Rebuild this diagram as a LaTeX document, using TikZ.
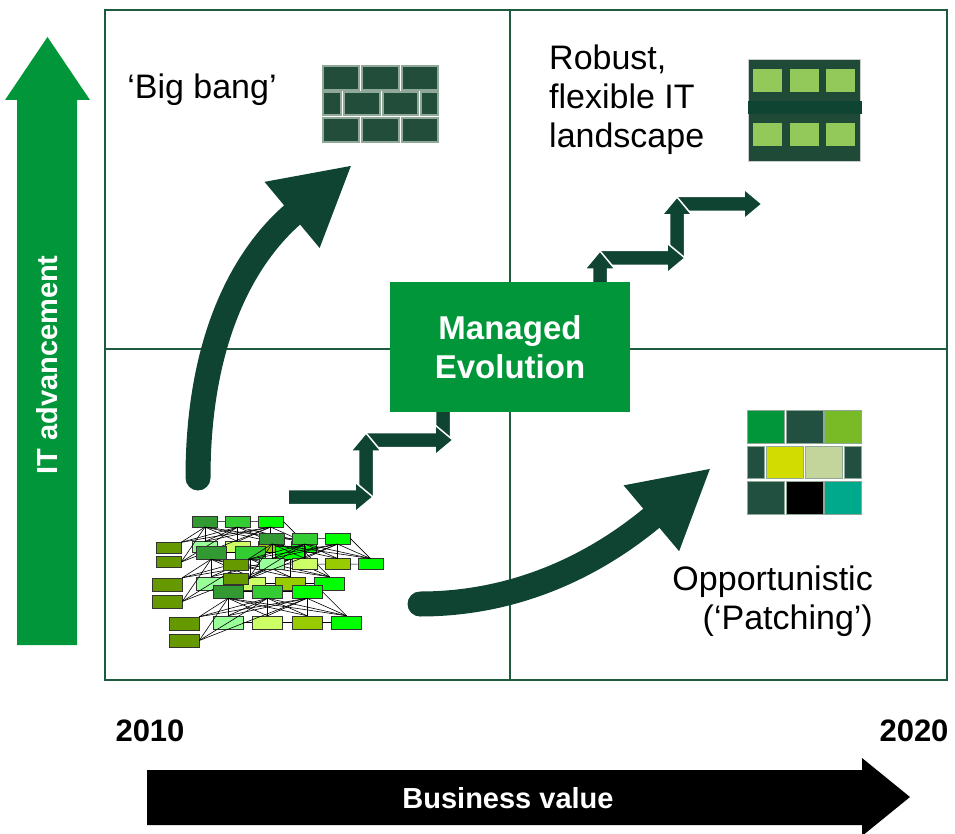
\documentclass[tikz,border=0pt]{standalone}
\usepackage{fontspec}
\setmainfont{Liberation Sans}
\usetikzlibrary{positioning,arrows.meta}

\definecolor{evogreen}{HTML}{009639}
\definecolor{evodark}{HTML}{0E4431}
\definecolor{gridgreen}{HTML}{1E5B3E}
\definecolor{brickdark}{HTML}{214D3A}
\definecolor{brickedge}{HTML}{8FA898}
\definecolor{landdark}{HTML}{1F4A38}
\definecolor{landlight}{HTML}{92C95A}
\definecolor{patchgreen}{HTML}{009639}
\definecolor{patchdark}{HTML}{215040}
\definecolor{patchlime}{HTML}{78BB26}
\definecolor{patchyellow}{HTML}{D2DC00}
\definecolor{patchpale}{HTML}{C3D59B}
\definecolor{patchteal}{HTML}{00A88C}
\definecolor{netA}{HTML}{339933}
\definecolor{netB}{HTML}{33CC33}
\definecolor{netC}{HTML}{00FF00}
\definecolor{netolive}{HTML}{669900}
\definecolor{netlight}{HTML}{99FF99}
\definecolor{netpale}{HTML}{CCFF66}
\definecolor{netlime}{HTML}{99CC00}

\tikzset{
  quadtext/.style={font=\fontsize{34}{39}\selectfont, inner sep=0pt},
  axistext/.style={text=white, font=\bfseries\fontsize{29}{34}\selectfont, inner sep=0pt},
  yeartext/.style={font=\bfseries\fontsize{31}{36}\selectfont, inner sep=0pt},
  evobox/.style={fill=evogreen, text=white, minimum width=240, minimum height=130,
    align=center, font=\bfseries\fontsize{33}{39}\selectfont},
  bigcurve/.style={draw=evodark, line width=25pt, line cap=round,
    -{Triangle[length=78pt,width=80pt]}},
  steparrow/.style={fill=evodark, draw=white, line width=1.5pt},
  brick/.style={fill=brickdark, draw=brickedge, line width=1.5pt},
  patch/.style={draw=brickedge, line width=1pt},
  netbox/.style={draw=black!80, line width=0.5pt, inner sep=0pt},
  netline/.style={draw=black, line width=0.6pt}
}

% one block arrow of the staircase: tail x, tail y, length, angle
\newcommand{\stepper}[4]{%
  \filldraw[steparrow, shift={(#1,#2)}, rotate=#4]
    (0,7.5) -- ({#3-18},7.5) -- ({#3-18},15) -- (#3,0)
    -- ({#3-18},-15) -- ({#3-18},-7.5) -- (0,-7.5) -- cycle;}

% one layer of the tangled legacy network: prefix, x, y, scale
\newcommand{\netlayer}[4]{%
  \begin{scope}[shift={(#2,#3)}, scale=#4, name prefix=#1-,
      every node/.append style={netbox, minimum width=30*#4, minimum height=13*#4}]
    \node[fill=netA] (t1) at (59,6.5) {};
    \node[fill=netB] (t2) at (98.5,6.5) {};
    \node[fill=netC] (t3) at (138,6.5) {};
    \node[fill=netolive] (l1) at (15,38.5) {};
    \node[fill=netolive] (l2) at (15,55.5) {};
    \node[fill=netlight] (m1) at (59,37.5) {};
    \node[fill=netpale] (m2) at (98.5,37.5) {};
    \node[fill=netlime] (m3) at (138,37.5) {};
    \node[fill=netC] (m4) at (177.5,37.5) {};
    \foreach \i in {1,2,3} {
      \foreach \j in {1,...,4} \draw[netline] (t\i.south) -- (m\j.north);
      \draw[netline] (t\i.south) -- (l1.north east);
      \draw[netline] (t\i.south) -- (l2.east);
    }
    \draw[netline] (t1) -- (t2) (t2) -- (t3) (m1) -- (m2) (m2) -- (m3) (m3) -- (m4);
    \draw[netline] (t3.east) -- (m4.north);
  \end{scope}}

\begin{document}
\begin{tikzpicture}[x=1pt, y=-1pt]
  \useasboundingbox (0,0) rectangle (955,834);

  % quadrant frame
  \draw[gridgreen, line width=1.5pt] (105,10) rectangle (947,680);
  \draw[gridgreen, line width=1.5pt] (510,10) -- (510,680) (105,349) -- (947,349);

  % axes
  \fill[evogreen] (17,645) -- (17,100) -- (5,100) -- (47.5,37) -- (90,100)
    -- (77,100) -- (77,645) -- cycle;
  \node[axistext, rotate=90] (itadv) at (47,365) {IT advancement};
  \fill[black] (147,770) -- (862,770) -- (862,758) -- (910,797) -- (862,836)
    -- (862,825) -- (147,825) -- cycle;
  \node[axistext] (busval) at (508,798) {Business value};
  \node[yeartext] (y2010) at (150,731) {2010};
  \node[yeartext] (y2020) at (914,731) {2020};

  % quadrant labels
  \node[quadtext] (bigbang) at (202,90) {‘Big bang’};
  \node[quadtext, align=left, anchor=west] (robust) at (549,100) {Robust,\\flexible IT\\landscape};
  \node[quadtext, align=right, anchor=east] (patching) at (873,601) {Opportunistic\\(‘Patching’)};

  % big bang wall
  \foreach \y in {66,118} {
    \foreach \x/\w in {323/36,362/37,402/36}
      \draw[brick] (\x,\y) rectangle ++(\w,24);
  }
  \foreach \x/\w in {323/18,344/36,383/35,421/17}
    \draw[brick] (\x,92) rectangle ++(\w,23);

  % robust landscape
  \fill[landdark, draw=gray!40, line width=0.5pt] (748,59) rectangle (860,161);
  \fill[evodark] (748,101) rectangle (862,114);
  \foreach \x in {753,790,826} {
    \fill[landlight] (\x,69) rectangle ++(29,23);
    \fill[landlight] (\x,123) rectangle ++(29,23);
  }

  % patchwork
  \draw[patch, fill=patchgreen] (747,410) rectangle (784,443);
  \draw[patch, fill=patchdark] (786,410) rectangle (823,443);
  \draw[patch, fill=patchlime] (824,410) rectangle (861,443);
  \draw[patch, fill=patchdark] (747,446) rectangle (764,478);
  \draw[patch, fill=patchyellow] (766,446) rectangle (803,478);
  \draw[patch, fill=patchpale] (805,446) rectangle (842,478);
  \draw[patch, fill=patchdark] (844,446) rectangle (861,478);
  \draw[patch, fill=patchdark] (747,481) rectangle (784,514);
  \draw[patch, fill=black] (786,481) rectangle (823,514);
  \draw[patch, fill=patchteal] (824,481) rectangle (861,514);

  % legacy network
  \netlayer{back}{156}{516}{0.83}
  \netlayer{front}{152}{546}{1}
  \netlayer{mid}{223}{533}{0.83}
  \netlayer{low}{169}{585}{1}

  % big bang and patching paths
  \coordinate (bangstart) at (198,478);
  \coordinate (bangend) at (352,165);
  \coordinate (patchstart) at (420,604);
  \coordinate (patchend) at (711,468);
  \draw[bigcurve] (bangstart) .. controls (198,330) and (250,250) .. (bangend);
  \draw[bigcurve] (patchstart) .. controls (510,604) and (590,570) .. (patchend);

  % managed evolution staircase
  \stepper{443}{440}{50}{90}
  \stepper{366}{440}{87}{0}
  \stepper{366}{497}{64}{90}
  \stepper{288}{497}{85}{0}
  \stepper{677}{204}{85}{0}
  \stepper{677}{258}{61}{90}
  \stepper{600}{258}{85}{0}
  \stepper{600}{300}{49}{90}
  \node[evobox] (evo) at (510,347) {Managed\\Evolution};
\end{tikzpicture}
\end{document}
